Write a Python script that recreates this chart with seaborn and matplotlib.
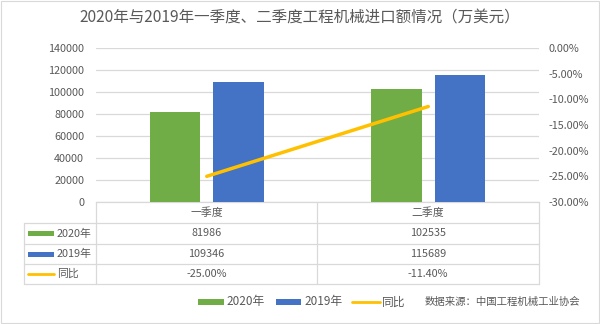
import matplotlib
matplotlib.use("Agg")
import matplotlib.pyplot as plt
from matplotlib.lines import Line2D
from matplotlib.patches import Rectangle
from matplotlib.ticker import FuncFormatter
import numpy as np
import pandas as pd
import seaborn as sns

# ---- data ----
quarters = ["一季度", "二季度"]
series_names = ["2020年", "2019年"]
values_2020 = [81986, 102535]
values_2019 = [109346, 115689]
yoy_name = "同比"
yoy_pct = [-25.00, -11.40]
left_ticks = [0, 20000, 40000, 60000, 80000, 100000, 120000, 140000]
right_ticks = [-30, -25, -20, -15, -10, -5, 0]
title = "2020年与2019年一季度、二季度工程机械进口额情况（万美元）"
source = "数据来源：中国工程机械工业协会"

GREEN = "#70AD47"
BLUE = "#4472C4"
YELLOW = "#FFC000"
TXT = "#595959"
GRID = "#D9D9D9"

sns.set_style("white")
plt.rcParams["font.family"] = ["Noto Sans CJK SC", "DejaVu Sans"]

W, H = 600, 324
fig = plt.figure(figsize=(W / 100, H / 100), dpi=100)


def fx(x):
    return x / W


def fy(y):
    return 1 - y / H


# plot area
x0, x1, y_top, y_bot = 96, 539, 48, 202
ax = fig.add_axes([fx(x0), fy(y_bot), fx(x1) - fx(x0), fy(y_top) - fy(y_bot)])

df = pd.DataFrame({
    "季度": quarters * 2,
    "年份": [series_names[0]] * 2 + [series_names[1]] * 2,
    "金额": values_2020 + values_2019,
})
sns.barplot(data=df, x="季度", y="金额", hue="年份", palette=[GREEN, BLUE],
            saturation=1, width=0.57, gap=0.2, linewidth=0, legend=False,
            ax=ax, zorder=3)

ax.set_xlim(-0.5, 1.5)
ax.set_ylim(0, 140000)
ax.set_yticks(left_ticks)
ax.yaxis.grid(True, color=GRID, linewidth=0.9)
ax.set_axisbelow(True)
ax.set_xlabel("")
ax.set_ylabel("")
ax.set_xticks([])
ax.tick_params(axis="y", length=0, pad=8.5, labelsize=7.8, labelcolor=TXT)
for s in ["left", "right", "top"]:
    ax.spines[s].set_visible(False)
ax.spines["bottom"].set_color(GRID)
ax.spines["bottom"].set_linewidth(0.9)

ax2 = ax.twinx()
sns.lineplot(x=np.arange(len(quarters)), y=yoy_pct, color=YELLOW,
             linewidth=2.5, ax=ax2, zorder=4)
ax2.set_ylim(-30, 0)
ax2.set_yticks(right_ticks)
ax2.yaxis.set_major_formatter(FuncFormatter(lambda v, p: f"{v:.2f}%"))
ax2.tick_params(axis="y", length=0, pad=7, labelsize=7.8, labelcolor=TXT)
ax2.set_ylabel("")
ax2.set_xlim(-0.5, 1.5)
for s in ax2.spines.values():
    s.set_visible(False)

# title
fig.text(0.5, fy(18), title, ha="center", va="center", fontsize=11.2, color=TXT)

# ---- data table under the plot ----
tl, tk = 24, 96
row_lines = [223, 244, 264, 284]
col_mid = 317


def hline(y, xa, xb):
    fig.add_artist(Line2D([fx(xa), fx(xb)], [fy(y), fy(y)], color=GRID, lw=0.9))


def vline(x, ya, yb):
    fig.add_artist(Line2D([fx(x), fx(x)], [fy(ya), fy(yb)], color=GRID, lw=0.9))


for y in row_lines:
    hline(y, tl, x1)
vline(tl, row_lines[0], row_lines[-1])
vline(tk, y_bot, row_lines[-1])
vline(col_mid, y_bot, row_lines[-1])
vline(x1, y_bot, row_lines[-1])

centers_x = [(tk + col_mid) / 2, (col_mid + x1) / 2]
row_centers = [(y_bot + row_lines[0]) / 2] + [
    (row_lines[i] + row_lines[i + 1]) / 2 for i in range(3)]

fs = 7.8
for cx, q in zip(centers_x, quarters):
    fig.text(fx(cx), fy(row_centers[0]), q, ha="center", va="center",
             fontsize=fs, color=TXT)

rows = [
    (series_names[0], [str(v) for v in values_2020], "bar", GREEN),
    (series_names[1], [str(v) for v in values_2019], "bar", BLUE),
    (yoy_name, [f"{v:.2f}%" for v in yoy_pct], "line", YELLOW),
]
for (name, cells, kind, col), cy in zip(rows, row_centers[1:]):
    if kind == "bar":
        fig.add_artist(Rectangle((fx(28), fy(cy + 2.5)), fx(54) - fx(28),
                                 fy(cy - 2.5) - fy(cy + 2.5), color=col, lw=0))
    else:
        fig.add_artist(Line2D([fx(28), fx(54)], [fy(cy), fy(cy)], color=col, lw=2))
    fig.text(fx(57), fy(cy), name, ha="left", va="center", fontsize=fs, color=TXT)
    for cx, c in zip(centers_x, cells):
        fig.text(fx(cx), fy(cy), c, ha="center", va="center", fontsize=fs, color=TXT)

# ---- legend row ----
ly = 302
legend_items = [
    (series_names[0], "bar", GREEN, 198, 224, 226),
    (series_names[1], "bar", BLUE, 276, 301, 304),
    (yoy_name, "line", YELLOW, 352, 380, 382),
]
for name, kind, col, ka, kb, tx in legend_items:
    if kind == "bar":
        fig.add_artist(Rectangle((fx(ka), fy(ly + 3)), fx(kb) - fx(ka),
                                 fy(ly - 3) - fy(ly + 3), color=col, lw=0))
    else:
        fig.add_artist(Line2D([fx(ka), fx(kb)], [fy(ly), fy(ly)], color=col, lw=2))
    fig.text(fx(tx), fy(ly), name, ha="left", va="center", fontsize=8.5, color=TXT)

fig.text(fx(425), fy(ly), source, ha="left", va="center", fontsize=7.5, color=TXT)

# chart frame
fig.add_artist(Rectangle((0.001, 0.002), 0.997, 0.995, fill=False,
                         edgecolor=GRID, lw=0.8))

fig.savefig("out.png", dpi=100)
